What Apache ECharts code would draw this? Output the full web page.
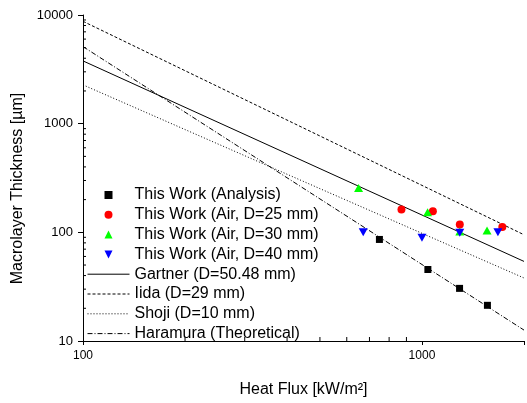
<!DOCTYPE html>
<html><head><meta charset="utf-8">
<script src="https://cdn.jsdelivr.net/npm/echarts@6/dist/echarts.min.js"></script>
<style>html,body{margin:0;padding:0;background:#fff}#c{width:527px;height:403px}</style>
</head><body><div id="c"></div>
<script>
// Scatter data (heat flux kW/m2, macrolayer thickness um)
const analysisX = [749, 1041, 1291, 1560];
const analysisY = [86, 45.5, 30.5, 21.3];
const air25X = [870, 1077, 1293, 1726];
const air25Y = [162, 156, 118, 112];
const air30X = [650, 1039, 1293, 1556];
const air30Y = [256, 153, 102, 104];
const air40X = [671, 1000, 1293, 1675];
const air40Y = [100, 89, 99, 100];
// Correlation lines (end points on log-log axes)
const lineX = [100, 2000];
const gartnerY = [3780, 54];
const iidaY = [8750, 95];
const shojiY = [2275, 38];
const haramuraY = [5120, 12.6];
// Minor tick values
const xMinor = [200, 300, 400, 500, 600, 700, 800, 900];
const yMinor = [20, 30, 40, 50, 60, 70, 80, 90, 200, 300, 400, 500, 600, 700, 800, 900, 2000, 3000, 4000, 5000, 6000, 7000, 8000, 9000];
const xMajorLabels = [100, 1000];
const yMajorLabels = [10, 100, 1000, 10000];
const names = ['This Work (Analysis)', 'This Work (Air, D=25 mm)', 'This Work (Air, D=30 mm)', 'This Work (Air, D=40 mm)',
  'Gartner (D=50.48 mm)', 'Iida (D=29 mm)', 'Shoji (D=10 mm)', 'Haramura (Theoretical)'];

const FONT = 'Arial, "Liberation Sans", sans-serif';
const zip = (xs, ys) => xs.map((x, i) => [x, ys[i]]);
const ICON_SQ = 'path://M0,0H1V1H0Z';
const ICON_UP = 'path://M0.5,0L1,1H0Z';
const ICON_DN = 'path://M0,0H1L0.5,1Z';

const chart = echarts.init(document.getElementById('c'), null, {renderer: 'canvas'});

function lineSeries(name, ys, type) {
  return {name, type: 'line', data: zip(lineX, ys), symbol: 'none', silent: true, z: 2,
    itemStyle: {color: '#000'},
    lineStyle: {color: '#000', width: 1, type: type}};
}
function scatterSeries(name, xs, ys, symbol, size, color, rotate) {
  return {name, type: 'scatter', data: zip(xs, ys), symbol, symbolSize: size, symbolRotate: rotate || 0,
    itemStyle: {color, opacity: 1}, z: 5};
}
function minorTicks(data, horizontal) {
  return {type: 'custom', silent: true, z: 10, data,
    renderItem: (p, api) => {
      const c = api.coord([api.value(0), api.value(1)]);
      const shape = horizontal ? {x1: c[0], y1: c[1], x2: c[0] + 3, y2: c[1]} : {x1: c[0], y1: c[1], x2: c[0], y2: c[1] - 4};
      return {type: 'line', shape, style: {stroke: '#000', lineWidth: 1}};
    }};
}

const hidden = {color: 'rgba(0,0,0,0)', opacity: 0, borderWidth: 0};
const legendData = [
  {name: names[0], icon: ICON_SQ},
  {name: names[1], icon: 'circle'},
  {name: names[2], icon: ICON_UP},
  {name: names[3], icon: ICON_DN},
  {name: names[4], itemStyle: hidden},
  {name: names[5], itemStyle: hidden},
  {name: names[6], itemStyle: hidden},
  {name: names[7], itemStyle: hidden}
];

chart.setOption({
  animation: false,
  backgroundColor: '#fff',
  grid: {left: 83, top: 15, width: 445, height: 327, containLabel: false},
  xAxis: {type: 'log', logBase: 10, min: 100, max: 2000,
    name: 'Heat Flux [kW/m²]', nameLocation: 'middle', nameGap: 41,
    nameTextStyle: {fontFamily: FONT, fontSize: 16, color: '#000'},
    axisLine: {lineStyle: {color: '#000', width: 1}},
    axisTick: {show: true, inside: false, length: 4, lineStyle: {color: '#000'}},
    axisLabel: {fontFamily: FONT, fontSize: 12, color: '#000', margin: 9,
      formatter: v => xMajorLabels.indexOf(Math.round(v)) >= 0 ? String(Math.round(v)) : ''},
    splitLine: {show: false}},
  yAxis: {type: 'log', logBase: 10, min: 10, max: 10000,
    name: 'Macrolayer Thickness [µm]', nameLocation: 'middle', nameGap: 47,
    nameTextStyle: {fontFamily: FONT, fontSize: 16, color: '#000', padding: [0, 21, 0, 0]},
    axisLine: {show: true, lineStyle: {color: '#000', width: 1}},
    axisTick: {show: true, inside: false, length: 5, lineStyle: {color: '#000'}},
    axisLabel: {fontFamily: FONT, fontSize: 13, color: '#000', margin: 10,
      formatter: v => yMajorLabels.indexOf(Math.round(v)) >= 0 ? String(Math.round(v)) : ''},
    splitLine: {show: false}},
  legend: {orient: 'vertical', left: 87, top: 187, padding: 0, itemGap: 3.8,
    itemWidth: 42, itemHeight: 8, symbolKeepAspect: true, symbolRotate: 0, data: legendData,
    lineStyle: {width: 1},
    textStyle: {fontFamily: FONT, fontSize: 16, color: '#000'}},
  series: [
    lineSeries(names[4], gartnerY, 'solid'),
    lineSeries(names[5], iidaY, [3, 2]),
    lineSeries(names[6], shojiY, [1, 2]),
    lineSeries(names[7], haramuraY, [5, 2, 1, 2]),
    scatterSeries(names[0], analysisX, analysisY, 'rect', 7, '#000'),
    scatterSeries(names[1], air25X, air25Y, 'circle', 8, '#ff0000'),
    scatterSeries(names[2], air30X, air30Y, 'triangle', [9, 8], '#00ff00'),
    scatterSeries(names[3], air40X, air40Y, 'triangle', [9, 8], '#0000ff', 180),
    minorTicks(xMinor.map(v => [v, 10]), false),
    minorTicks(yMinor.map(v => [100, v]), true)
  ]
});
</script></body></html>
